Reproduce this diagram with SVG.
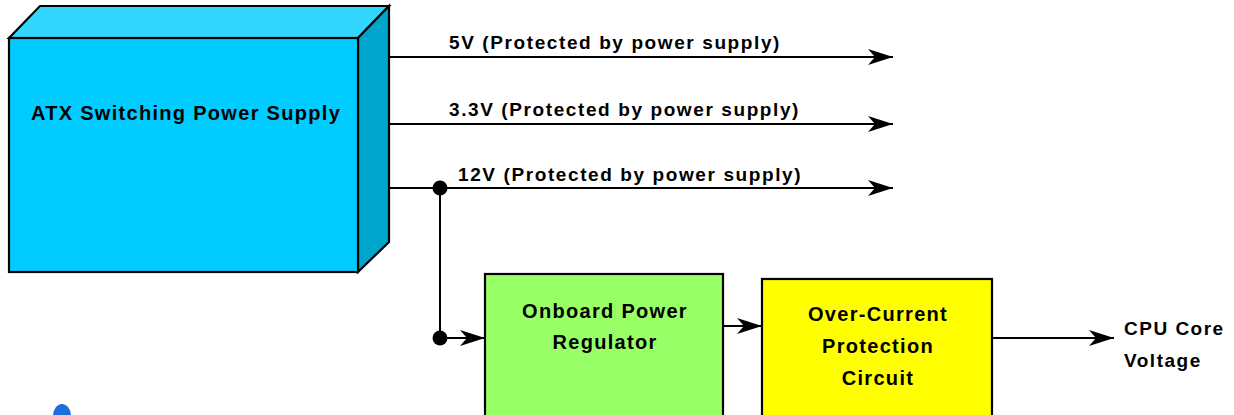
<svg xmlns="http://www.w3.org/2000/svg" width="1234" height="415" viewBox="0 0 1234 415">
<style>
text{font-family:"Liberation Sans",Arial,sans-serif;font-weight:bold;fill:#000}
.b{stroke:#000;stroke-width:2.2;stroke-linejoin:miter}
.w{stroke:#000;stroke-width:2;fill:none}
.lbl{font-size:19px;letter-spacing:1.6px}
.big{font-size:20px;letter-spacing:1.3px;text-anchor:middle}
.cpu{font-size:19px;letter-spacing:1.5px}
</style>
<defs>
<marker id="ah" markerWidth="26" markerHeight="18" refX="25" refY="9" orient="auto" markerUnits="userSpaceOnUse">
<path d="M0,1 L25,9 L0,17 L7,9 Z" fill="#000"/>
</marker>
</defs>
<rect width="1234" height="415" fill="#fff"/>
<g id="psu">
<polygon class="b" points="9,38 40,6 389,6 358,38" fill="#33D6FF"/>
<polygon class="b" points="358,38 389,6 389,242 358,272" fill="#00A5CC"/>
<rect class="b" x="9" y="38" width="349" height="234" fill="#00CCFF"/>
<text class="big" x="186" y="120">ATX Switching Power Supply</text>
</g>
<g id="regulator">
<rect class="b" x="485" y="274" width="238" height="150" fill="#99FF66"/>
<text class="big" x="605" y="318">Onboard Power</text>
<text class="big" x="605" y="349">Regulator</text>
</g>
<g id="ocp">
<rect class="b" x="762" y="279" width="230" height="150" fill="#FFFF00"/>
<text class="big" x="878" y="321">Over-Current</text>
<text class="big" x="878" y="353">Protection</text>
<text class="big" x="878" y="385">Circuit</text>
</g>
<g id="cpu">
<text class="cpu" x="1124" y="335">CPU Core</text>
<text class="cpu" x="1124" y="367">Voltage</text>
</g>
<g id="connectors">
<line class="w" x1="389" y1="57" x2="893" y2="57" marker-end="url(#ah)"/>
<line class="w" x1="389" y1="124" x2="893" y2="124" marker-end="url(#ah)"/>
<line class="w" x1="389" y1="188" x2="893" y2="188" marker-end="url(#ah)"/>
<line class="w" x1="440" y1="188" x2="440" y2="338"/>
<line class="w" x1="440" y1="338" x2="485" y2="338" marker-end="url(#ah)"/>
<line class="w" x1="723" y1="326" x2="762" y2="326" marker-end="url(#ah)"/>
<line class="w" x1="992" y1="338" x2="1114" y2="338" marker-end="url(#ah)"/>
<circle cx="440" cy="188" r="7.5" fill="#000"/>
<circle cx="440" cy="338" r="7.5" fill="#000"/>
</g>
<g id="labels">
<text class="lbl" x="449" y="49">5V (Protected by power supply)</text>
<text class="lbl" x="449" y="116">3.3V (Protected by power supply)</text>
<text class="lbl" x="458" y="181">12V (Protected by power supply)</text>
</g>
<ellipse cx="62" cy="416" rx="9" ry="12" fill="#1E6FD9"/>
</svg>
